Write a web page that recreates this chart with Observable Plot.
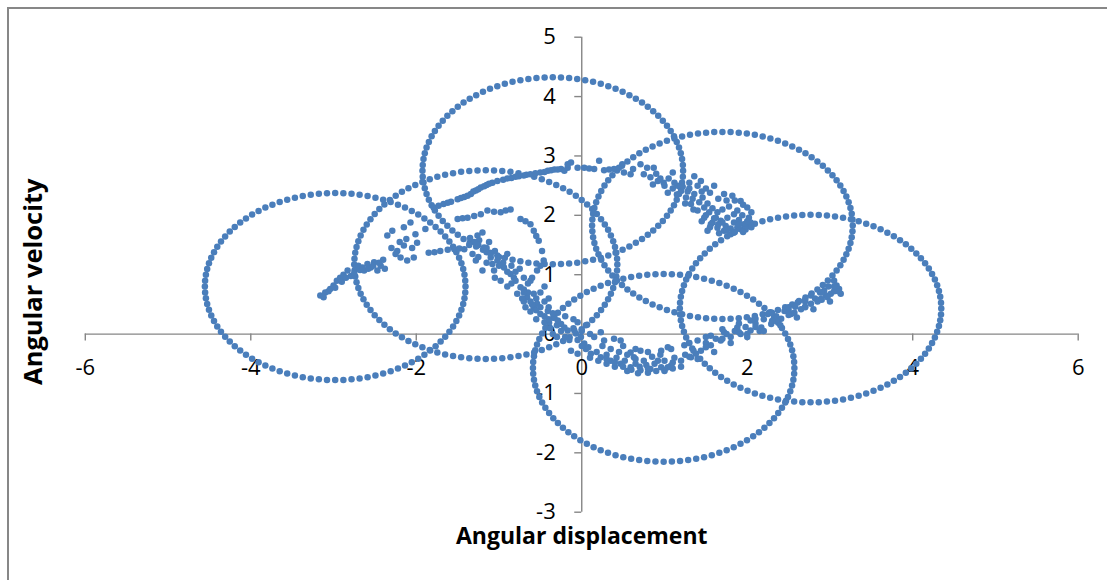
<!DOCTYPE html>
<html>
<head>
<meta charset="utf-8">
<script src="https://cdn.jsdelivr.net/npm/d3@7"></script>
<script src="https://cdn.jsdelivr.net/npm/@observablehq/plot@0.6"></script>
<style>
  html, body { margin: 0; padding: 0; background: #fff; }
  #chart { position: relative; width: 1107px; height: 580px; overflow: hidden; }
  #frame { position: absolute; left: 7px; top: 7px; right: -10px; bottom: -10px;
           border-left: 2px solid #878787; border-top: 2px solid #878787; }
  #chart svg { position: absolute; left: 0; top: 0; }
</style>
</head>
<body>
<div id="chart"><div id="frame"></div></div>
<script>
// ---- axis ticks ----
const xTicks = [-6, -4, -2, 0, 2, 4, 6];
const yTicks = [-3, -2, -1, 0, 1, 2, 3, 4, 5];
const xTitle = "Angular displacement";
const yTitle = "Angular velocity";

// ---- circles of dots (center and radius) ----
const circleCx = [-2.98, -0.35, -1.16, 1.70, 2.765, 0.99];
const circleCy = [0.80, 2.75, 1.17, 1.83, 0.43, -0.57];
const circleR  = [1.575, 1.575, 1.59, 1.575, 1.58, 1.58];
const dotsPerCircle = 100;

// ---- trajectory points (angular displacement, angular velocity) ----
const trajX = [
  -3.16,-3.10,-3.04,-3.00,-2.96,-2.92,-2.88,-2.83,-2.79,-2.73,-2.68,-2.63,-2.59,-2.55,-2.51,-2.47,-2.43,-2.40,-2.35,-2.29,
  -2.23,-2.19,-2.15,-2.11,-2.15,-2.07,-2.01,-2.03,-1.99,-1.89,
  -1.79,-1.67,-1.58,-1.50,-1.42,-1.34,-1.28,-1.22,-1.15,-1.08,-0.95,-0.85,-0.76,-0.62,-0.50,-0.41,-0.33,-0.25,-0.17,-0.13,-0.21,-0.17,
  -1.50,-1.44,-1.38,-1.30,-1.22,-1.14,-1.06,-0.98,-0.92,-0.86,-0.74,-0.68,-0.62,-0.58,-0.55,-0.52,-0.48,-0.46,-0.50,-0.54,-0.62,-0.58,-0.54,-0.41,-0.33,-0.25,-0.17,
  -1.85,-1.78,-1.71,-1.62,-1.54,-1.42,-1.26,-1.20,-1.24,-1.18,-1.10,-1.02,-0.94,-0.86,-0.80,-0.74,-0.66,-0.58,-0.50,-1.28,-1.20,-1.06,-0.98,-0.78,-0.70,-0.45,-0.38,
  -1.35,-1.30,-1.25,
  -0.45,-0.40,-0.35,-0.30,-0.10,-0.05,0.05,0.10,-0.20,-0.15,
  0.03,0.15,0.21,0.27,0.39,0.45,0.49,0.51,0.59,0.62,0.71,0.79,0.87,0.75,0.83,0.92,0.99,0.86,1.04,1.10,1.16,1.20,1.26,1.32,1.36,1.40,1.48,1.56,1.52,1.64,
  1.72,1.80,1.88,1.96,2.02,2.00,1.92,1.82,1.72,1.60,1.44,1.36,1.48,1.64,1.76,1.84,1.54,1.68,1.84,1.58,
  1.22,1.28,1.34,1.30,1.42,1.46,1.52,1.58,1.62,1.70,1.78,1.88,1.94,2.04,1.98,1.74,1.66,1.90,1.45,1.12,
  -0.29,-0.21,-0.09,-0.01,0.03,-0.13,-0.05,0.11,0.23,0.35,0.47,0.59,0.71,0.83,0.96,1.08,1.20,1.32,1.44,1.56,1.68,1.80,1.92,2.04,2.17,2.29,2.41,2.53,2.65,2.77,2.89,3.01,3.11,3.13,
  2.45,2.61,2.77,2.93,3.05,2.25,2.04,1.88,1.72,1.56,1.40,1.24,1.08,0.96,
  0.63,0.75,0.92,1.04,0.23,0.27,0.39,0.47,0.15,0.59,0.71,1.04,
  0.05,0.18,0.30,0.42,0.52,0.65,0.78,0.88,1.00,1.12,1.25,1.35,1.50,1.62,1.75,1.85,1.98,2.10,2.20,2.35,2.50,2.58,2.70,2.82,2.95,3.05,2.35,2.57,2.70,2.85,2.97,3.08,2.98,2.88,2.15,2.00,
  0.40,0.55,0.68,0.80,0.30,
  1.00,1.20,1.40,1.60,1.80,2.00,2.20,2.40,2.60,2.80,3.00,
  1.10,1.30,1.50,1.70,1.90,2.10,2.30,2.50,2.70,2.90,3.10,
  1.30,1.50,1.70,1.90,2.10,2.30,2.50,2.70,2.90,3.05,
  0.10,0.20,0.30,0.40,0.50,0.60,0.70,0.80,0.90,1.00,1.10,0.45,0.55,0.65,0.85,0.95,0.35,0.25,0.50,0.65,0.80,
  -0.35,-0.30,-0.25,-0.20,-0.10,0.00,0.00,-0.05,0.08,-0.40,-0.45,-0.50,-0.55,-0.60,-0.65,-0.70,-0.50,-0.45,-0.40,
  1.50,1.60,1.70,1.80,1.90,2.00,2.05,1.95,1.85,1.75,1.65,1.55,1.50,1.40,1.30,1.25,1.35,1.45,1.55,1.65,1.75,1.85,1.95,2.05,1.15,1.10,1.00,0.95,0.90,1.05,
  -1.73,-1.62,-1.46,-1.38,-1.31,-1.25,-1.18,-1.12,-1.02,-0.90,-0.80,-0.70,-0.56,-0.45,-0.37,-0.29,-0.05,0.09,0.33,
  -3.12,-3.06,-2.98,-2.90,-2.85,-2.75,-2.70,-2.65,-2.58,-2.52,-2.45,-2.38,-2.30,-2.25,-2.20,-2.12,-2.05,
  -1.48,-1.36,-1.32,-1.15,-1.08,-0.90,-0.82,-0.70,-0.62,-0.55,-1.12,-1.05,
  -1.15,-1.10,-1.00,-0.95,-0.90,-0.85,-0.80,-0.75,-0.70,-0.65,-0.60,-0.72,-0.68,-0.62,-0.55,-0.85,-0.90,-1.05,-1.00,-1.25,-1.15
];
const trajY = [
  0.65,0.70,0.76,0.82,0.90,0.95,1.00,1.07,0.98,1.12,1.08,1.07,1.18,1.12,1.21,1.07,1.15,1.25,1.66,1.74,
  1.40,1.29,1.49,1.24,1.80,1.88,1.68,1.29,1.54,1.77,
  2.13,2.19,2.23,2.27,2.31,2.36,2.42,2.47,2.51,2.55,2.60,2.63,2.66,2.69,2.72,2.75,2.77,2.78,2.80,2.89,2.75,2.86,
  1.94,1.95,1.96,1.99,2.02,2.08,2.06,2.05,2.08,2.10,1.94,1.90,1.85,1.74,1.65,1.57,1.40,1.24,1.15,1.07,0.90,0.68,0.51,0.39,0.28,0.17,0.06,
  1.37,1.38,1.40,1.42,1.43,1.43,1.66,1.71,1.58,1.46,1.29,1.24,1.12,1.01,0.90,0.79,0.62,0.45,0.34,1.24,1.07,1.07,0.90,0.68,0.55,0.20,0.10,
  1.62,1.55,1.50,
  0.55,0.45,0.35,0.15,0.25,0.20,0.15,0.00,-0.05,-0.10,
  2.80,2.78,2.92,2.76,2.78,2.80,2.86,2.72,2.69,2.78,2.86,2.80,2.80,2.69,2.64,2.58,2.55,2.52,2.38,2.72,2.50,2.41,2.30,2.19,2.36,2.08,1.96,1.85,1.74,1.79,
  1.74,1.68,1.79,1.85,1.96,2.13,2.24,2.33,2.36,2.50,2.58,2.66,2.13,2.05,1.96,2.02,2.05,1.91,1.88,1.88,
  2.48,2.40,2.28,2.45,2.22,2.30,2.20,2.12,1.96,2.10,2.15,2.08,2.00,1.88,1.76,1.82,1.70,1.92,2.40,2.55,
  0.23,0.11,0.06,-0.05,-0.16,-0.28,-0.33,-0.33,-0.39,-0.45,-0.50,-0.56,-0.61,-0.59,-0.56,-0.53,-0.45,-0.39,-0.28,-0.19,-0.11,-0.05,0.00,0.06,0.11,0.17,0.26,0.34,0.42,0.51,0.59,0.68,0.76,0.68,
  0.39,0.53,0.65,0.73,0.90,0.34,0.23,0.11,0.03,-0.03,-0.11,-0.19,-0.25,-0.28,
  -0.39,-0.45,-0.45,-0.56,0.03,-0.11,-0.08,-0.11,-0.05,-0.31,-0.28,-0.22,
  -0.25,-0.30,-0.35,-0.40,-0.45,-0.50,-0.52,-0.50,-0.45,-0.40,-0.35,-0.28,-0.15,-0.08,0.00,0.05,0.12,0.18,0.25,0.30,0.40,0.46,0.55,0.60,0.65,0.72,0.22,0.36,0.46,0.55,0.62,0.82,0.80,0.70,0.05,0.00,
  -0.55,-0.62,-0.66,-0.65,-0.50,
  -0.62,-0.55,-0.42,-0.30,-0.15,-0.05,0.05,0.15,0.28,0.42,0.55,
  -0.48,-0.38,-0.22,-0.08,0.03,0.12,0.22,0.32,0.45,0.58,0.72,
  -0.15,-0.05,0.08,0.18,0.26,0.36,0.45,0.58,0.70,0.80,
  -0.40,-0.45,-0.42,-0.48,-0.55,-0.60,-0.55,-0.58,-0.62,-0.60,-0.58,-0.30,-0.35,-0.42,-0.38,-0.35,-0.25,-0.20,-0.20,-0.25,-0.30,
  0.00,-0.05,0.05,0.30,0.10,0.05,-0.20,-0.10,-0.22,0.25,0.30,0.45,0.60,0.50,0.70,0.75,0.70,0.80,0.60,
  2.00,1.95,1.88,1.78,1.85,1.90,2.05,2.18,2.25,2.25,2.28,2.38,2.45,2.50,2.55,2.20,2.10,1.90,1.80,1.85,1.75,1.72,1.72,1.80,2.35,2.45,2.50,2.62,2.70,2.62,
  2.16,2.21,2.29,2.33,2.40,2.44,2.49,2.53,2.58,2.62,2.65,2.67,2.71,2.73,2.76,2.77,2.80,2.79,2.77,
  0.62,0.72,0.78,0.88,0.95,1.02,1.15,1.12,1.10,1.15,1.20,1.10,1.45,1.35,1.55,1.60,1.45,
  1.44,1.50,1.35,1.38,1.18,1.05,0.95,0.70,0.55,0.40,1.55,1.40,
  1.45,1.35,1.30,1.20,1.35,1.15,1.05,1.10,0.95,0.85,0.95,0.60,0.45,0.38,0.25,0.85,0.80,0.95,1.15,1.30,1.20
];

// ---- build tables for the library ----
const circleDots = [];
circleCx.forEach((cx, i) => {
  for (let k = 0; k < dotsPerCircle; k++) {
    const t = 2 * Math.PI * k / dotsPerCircle;
    circleDots.push({x: cx + circleR[i] * Math.cos(t), y: circleCy[i] + circleR[i] * Math.sin(t)});
  }
});
const traj = trajX.map((x, i) => ({x, y: trajY[i]}));

const axisColor = "#868686";
const dotColor = "#4a7ebb";
const font = "'Open Sans', 'Liberation Sans', sans-serif";

const chart = Plot.plot({
  width: 1107,
  height: 580,
  marginLeft: 84.8,
  marginRight: 29.3,
  marginTop: 36.7,
  marginBottom: 68.3,
  x: {domain: [-6, 6], axis: null},
  y: {domain: [-3, 5], axis: null},
  style: {fontFamily: font, background: "transparent", overflow: "visible", color: "#000"},
  marks: [
    Plot.ruleY([0], {x1: -6, x2: 6, stroke: axisColor, strokeWidth: 1.4}),
    Plot.ruleX([0], {y1: -3, y2: 5, stroke: axisColor, strokeWidth: 1.4}),
    Plot.ruleX(xTicks, {x: d => d, y1: 0, y2: 0, insetBottom: -7, stroke: axisColor, strokeWidth: 1.4}),
    Plot.ruleY(yTicks, {y: d => d, x1: 0, x2: 0, insetLeft: -7, stroke: axisColor, strokeWidth: 1.4}),
    Plot.text(xTicks, {x: d => d, y: 0, text: d => String(d), dy: 34, fontSize: 22, fill: "#000"}),
    Plot.text(yTicks, {x: 0, y: d => d, text: d => String(d), textAnchor: "end", dx: -26, fontSize: 22, fill: "#000"}),
    Plot.dot(circleDots, {x: "x", y: "y", r: 3.25, fill: dotColor, stroke: "none"}),
    Plot.dot(traj, {x: "x", y: "y", r: 3.25, fill: dotColor, stroke: "none"}),
    Plot.text([xTitle], {frameAnchor: "bottom", lineAnchor: "middle", text: d => d, dy: 24, fontSize: 23, fontWeight: "bold", fill: "#000"}),
    Plot.text([yTitle], {frameAnchor: "left", textAnchor: "middle", lineAnchor: "middle", text: d => d, rotate: -90, dx: -51, dy: 7, fontSize: 25.5, fontWeight: "bold", letterSpacing: "0.8px", fill: "#000"})
  ]
});
document.getElementById("chart").appendChild(chart);
</script>
</body>
</html>
